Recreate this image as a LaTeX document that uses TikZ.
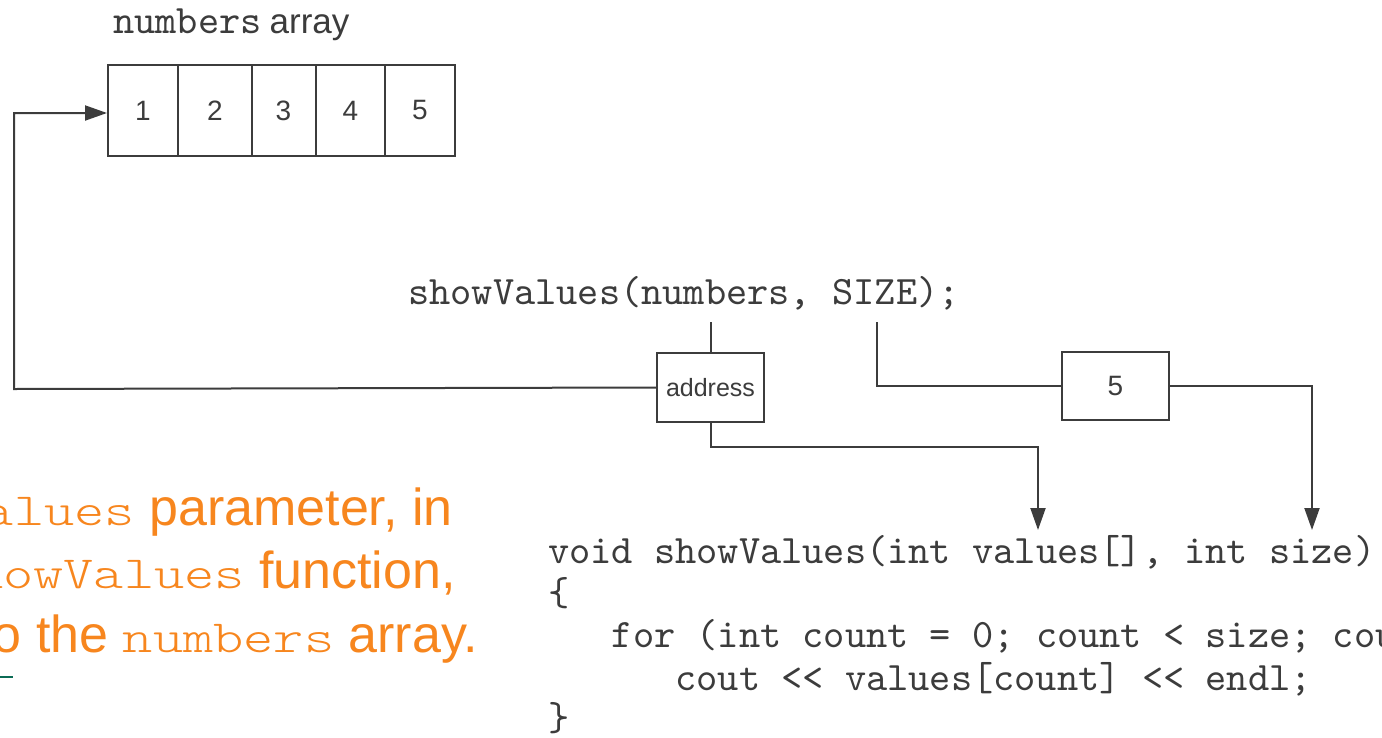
\documentclass[tikz,border=0pt]{standalone}
\usepackage{fontspec}
\setsansfont{Liberation Sans}
\newfontfamily\codefont{lmmono10-regular.otf}
\newfontfamily\widemono[FakeStretch=1.25]{lmmonolt10-regular.otf}
\usetikzlibrary{arrows.meta}
\definecolor{ink}{HTML}{3C3C3C}
\definecolor{hilite}{RGB}{247,134,30}
\definecolor{rule}{HTML}{0B6B55}
\tikzset{
  wire/.style={draw=ink, line width=2pt},
  arr/.style={wire, -{Triangle[length=22pt,width=15pt]}},
  cell/.style={draw=ink, line width=2pt, rectangle, inner sep=0pt,
    minimum height=91pt, font=\sffamily\fontsize{28}{32}\selectfont, text=ink},
  valbox/.style={draw=ink, line width=2pt, rectangle, inner sep=0pt, fill=white},
  code/.style={anchor=base west, inner sep=0pt, text=ink,
    font=\codefont\fontsize{40.4}{44}\selectfont},
  note/.style={anchor=base east, inner sep=0pt, text=hilite,
    font=\sffamily\fontsize{52}{60}\selectfont},
}
\newcommand{\nm}[1]{{\widemono\fontsize{46}{60}\selectfont #1}}
\begin{document}
\begin{tikzpicture}[x=1pt, y=-1pt]
\useasboundingbox (0,0) rectangle (1382,737);
\clip (0,0) rectangle (1382,737);

% array caption and cells
\node[anchor=base west, inner sep=0pt, text=ink] (cap) at (113,33)
  {{\codefont\fontsize{40.4}{44}\selectfont numbers}\hspace{8pt}{\sffamily\fontsize{35}{40}\selectfont array}};
\node[cell, minimum width=70pt] (c1) at (143,110.5) {1};
\node[cell, minimum width=74pt] (c2) at (215,110.5) {2};
\node[cell, minimum width=64pt] (c3) at (283.5,110.5) {3};
\node[cell, minimum width=69pt] (c4) at (350.5,110.5) {4};
\node[cell, minimum width=70pt] (c5) at (420,110.5) {5};

% the call and the passed values
\node[code] (call) at (408,304) {showValues(numbers, SIZE);};
\node[valbox, minimum width=107pt, minimum height=69pt,
  font=\sffamily\fontsize{25}{30}\selectfont, text=ink] (addr) at (710.5,387.5) {address};
\node[valbox, minimum width=107pt, minimum height=68pt,
  font=\sffamily\fontsize{28}{32}\selectfont, text=ink] (five) at (1115.5,386) {5};

\coordinate (numsrc) at (710.5,322);
\coordinate (sizesrc) at (877,322);
\coordinate (bend) at (14,389);
\coordinate (valjoin) at (1038,447);
\coordinate (valtip) at (1038,530);
\coordinate (sizetip) at (1312,530);

\draw[wire] (numsrc) -- (addr.north);
\draw[arr] (addr.west) -- (bend) |- ([yshift=-2.5pt]c1.west);
\draw[arr] (addr.south) |- (valjoin) -- (valtip);
\draw[wire] (sizesrc) |- (five.west);
\draw[arr] (five.east) -| (sizetip);

% function definition
\node[code] (l1) at (548,563) {void showValues(int values[], int size)};
\node[code] (l2) at (548,605) {\{};
\node[code] (l3) at (548,647) {\ \ \ for (int count = 0; count < size; count++)};
\node[code] (l4) at (548,690) {\ \ \ \ \ \ cout << values[count] << endl;};
\node[code] (l5) at (548,730) {\}};

% explanatory note
\node[note] (n1) at (453,525) {The \nm{values} parameter, in};
\node[note] (n2) at (456,588) {the \nm{showValues} function,};
\node[note] (n3) at (478,652) {points to the \nm{numbers} array.};
\draw[draw=rule, line width=2pt] (0,677) -- (13,677);
\end{tikzpicture}
\end{document}
